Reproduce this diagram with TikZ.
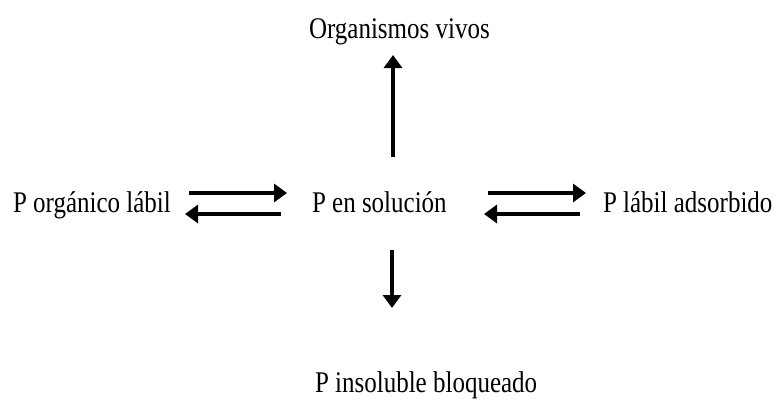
\documentclass[tikz,border=0pt]{standalone}
\usepackage{fontspec}
\setmainfont{Liberation Serif}
\usetikzlibrary{arrows.meta}
\tikzset{
  lbl/.style={anchor=base west, inner sep=0pt, outer sep=0pt, font=\fontsize{25}{30}\selectfont},
  arr/.style={line width=4pt, -{Triangle[length=13pt,width=18pt]}}
}
\newcommand{\stretchtxt}[1]{\scalebox{1}[1.2]{#1}}
\begin{document}
\begin{tikzpicture}[x=1pt,y=-1pt]
\useasboundingbox[fill=white] (0,0) rectangle (776,400);
\node[lbl] (org) at (309,38) {\stretchtxt{Organismos vivos}};
\node[lbl] (porg) at (13,212) {\stretchtxt{P orgánico lábil}};
\node[lbl] (psol) at (312,212) {\stretchtxt{P en solución}};
\node[lbl] (pads) at (603,212) {\stretchtxt{P lábil adsorbido}};
\node[lbl] (pins) at (315,392) {\stretchtxt{P insoluble bloqueado}};
% arrow endpoints
\coordinate (l1s) at (189,193); \coordinate (l1e) at (287,193);
\coordinate (l2s) at (281,214); \coordinate (l2e) at (185,214);
\coordinate (r1s) at (488,193); \coordinate (r1e) at (586,193);
\coordinate (r2s) at (580,214); \coordinate (r2e) at (484,214);
\coordinate (us) at (393,157); \coordinate (ue) at (393,55);
\coordinate (ds) at (392,250); \coordinate (de) at (392,308);
\draw[arr] (l1s) -- (l1e);
\draw[arr] (l2s) -- (l2e);
\draw[arr] (r1s) -- (r1e);
\draw[arr] (r2s) -- (r2e);
\draw[arr] (us) -- (ue);
\draw[arr] (ds) -- (de);
\end{tikzpicture}
\end{document}
